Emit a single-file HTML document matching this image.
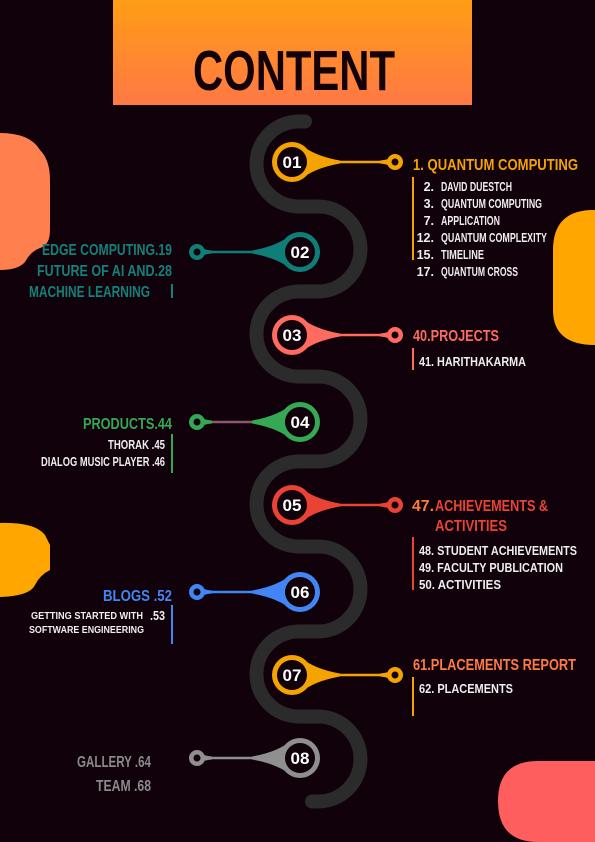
<!DOCTYPE html>
<html><head><meta charset="utf-8"><style>
html,body{margin:0;padding:0;background:#10010a;}
svg{display:block}
text{font-family:"Liberation Sans Narrow","Liberation Sans",sans-serif;font-weight:bold;}
</style></head><body>
<svg width="595" height="842" viewBox="0 0 595 842">
<defs>
<linearGradient id="tg" x1="0" y1="0" x2="0" y2="1"><stop offset="0" stop-color="#ff9d14"/><stop offset="1" stop-color="#ff7845"/></linearGradient>
<g id="tear">
<circle r="20"/>
<path d="M8,-18 Q22,-6 48,-1.5 L48,1.5 Q22,6 8,18 Z"/>
<path d="M103,-6 Q96,-2 88,-1.5 L88,1.5 Q96,2 103,6 Z"/>
<circle cx="103" r="8"/>
</g>
</defs>
<rect width="595" height="842" fill="#10010a"/>
<rect x="113" y="0" width="359" height="105" fill="url(#tg)"/>
<text x="193" y="90" font-size="57" fill="#12010a" textLength="202" lengthAdjust="spacingAndGlyphs">CONTENT</text>

<path d="M0,133 Q30,133 40,150 Q50,160 50,180 L50,230 Q50,245 40,248 Q30,252 25,262 Q18,270 0,270 Z" fill="#ff7f4f"/>
<path d="M595,210 L590,210 Q553,212 553,250 L553,310 Q553,345 595,345 Z" fill="#ffa600"/>
<path d="M0,523 Q35,522 45,535 L50,545 L50,570 Q40,575 35,585 Q30,596 0,597 Z" fill="#ffa600"/>
<path d="M538,761 L595,761 L595,842 L538,842 Q498,842 498,801 Q498,761 538,761 Z" fill="#ff5e5e"/>

<path fill="none" stroke="#2b2b2b" stroke-width="14" stroke-linecap="round"
d="M305,121.5 L299,121.5 A42.5,42.5 0 0 0 299,206.5 L318,206.5 A42.5,42.5 0 0 1 318,291.5 L299,291.5 A42.5,42.5 0 0 0 299,376.5 L318,376.5 A42.5,42.5 0 0 1 318,461.5 L299,461.5 A42.5,42.5 0 0 0 299,546.5 L318,546.5 A42.5,42.5 0 0 1 318,631.5 L299,631.5 A42.5,42.5 0 0 0 299,716.5 L318,716.5 A42.5,42.5 0 0 1 318,801.5 L312,801.5"/>

<g stroke-width="2.5">
<line x1="340" y1="162" x2="390" y2="162" stroke="#f5a300"/>
<line x1="252" y1="252" x2="200" y2="252" stroke="#0e7f78"/>
<line x1="340" y1="335" x2="390" y2="335" stroke="#ff6b61"/>
<line x1="252" y1="422" x2="200" y2="422" stroke="#8a5a6a"/>
<line x1="340" y1="505" x2="390" y2="505" stroke="#ea4335"/>
<line x1="252" y1="592" x2="200" y2="592" stroke="#4285f4"/>
<line x1="340" y1="675" x2="390" y2="675" stroke="#f5a300"/>
<line x1="252" y1="758" x2="200" y2="758" stroke="#8f8f8f"/>
</g>

<g><use href="#tear" transform="translate(292,162)" fill="#f5a300"/><circle cx="292" cy="162" r="15" fill="#10010a"/><circle cx="395" cy="162" r="3.5" fill="#10010a"/><text x="292" y="168" font-size="17" fill="#fff" text-anchor="middle">01</text></g>
<g><use href="#tear" transform="translate(300,252) scale(-1,1)" fill="#0e7f78"/><circle cx="300" cy="252" r="15" fill="#10010a"/><circle cx="197" cy="252" r="3.5" fill="#10010a"/><text x="300" y="258" font-size="17" fill="#fff" text-anchor="middle">02</text></g>
<g><use href="#tear" transform="translate(292,335)" fill="#ff6b61"/><circle cx="292" cy="335" r="15" fill="#10010a"/><circle cx="395" cy="335" r="3.5" fill="#10010a"/><text x="292" y="341" font-size="17" fill="#fff" text-anchor="middle">03</text></g>
<g><use href="#tear" transform="translate(300,422) scale(-1,1)" fill="#34a853"/><circle cx="300" cy="422" r="15" fill="#10010a"/><circle cx="197" cy="422" r="3.5" fill="#10010a"/><text x="300" y="428" font-size="17" fill="#fff" text-anchor="middle">04</text></g>
<g><use href="#tear" transform="translate(292,505)" fill="#ea4335"/><circle cx="292" cy="505" r="15" fill="#10010a"/><circle cx="395" cy="505" r="3.5" fill="#10010a"/><text x="292" y="511" font-size="17" fill="#fff" text-anchor="middle">05</text></g>
<g><use href="#tear" transform="translate(300,592) scale(-1,1)" fill="#4285f4"/><circle cx="300" cy="592" r="15" fill="#10010a"/><circle cx="197" cy="592" r="3.5" fill="#10010a"/><text x="300" y="598" font-size="17" fill="#fff" text-anchor="middle">06</text></g>
<g><use href="#tear" transform="translate(292,675)" fill="#f5a300"/><circle cx="292" cy="675" r="15" fill="#10010a"/><circle cx="395" cy="675" r="3.5" fill="#10010a"/><text x="292" y="681" font-size="17" fill="#fff" text-anchor="middle">07</text></g>
<g><use href="#tear" transform="translate(300,758) scale(-1,1)" fill="#8f8f8f"/><circle cx="300" cy="758" r="15" fill="#10010a"/><circle cx="197" cy="758" r="3.5" fill="#10010a"/><text x="300" y="764" font-size="17" fill="#fff" text-anchor="middle">08</text></g>

<g>
<text x="413" y="170" font-size="16" fill="#f5a300" textLength="165" lengthAdjust="spacingAndGlyphs">1.  QUANTUM COMPUTING</text>
<rect x="412" y="177" width="2" height="83" fill="#f5a300"/>
<g font-size="12.5" fill="#eee">
<text x="434" y="191" text-anchor="end">2.</text><text x="441" y="191" textLength="71" lengthAdjust="spacingAndGlyphs">DAVID DUESTCH</text>
<text x="434" y="208" text-anchor="end">3.</text><text x="441" y="208" textLength="101" lengthAdjust="spacingAndGlyphs">QUANTUM COMPUTING</text>
<text x="434" y="225" text-anchor="end">7.</text><text x="441" y="225" textLength="59" lengthAdjust="spacingAndGlyphs">APPLICATION</text>
<text x="434" y="242" text-anchor="end">12.</text><text x="441" y="242" textLength="106" lengthAdjust="spacingAndGlyphs">QUANTUM COMPLEXITY</text>
<text x="434" y="259" text-anchor="end">15.</text><text x="441" y="259" textLength="43" lengthAdjust="spacingAndGlyphs">TIMELINE</text>
<text x="434" y="276" text-anchor="end">17.</text><text x="441" y="276" textLength="77" lengthAdjust="spacingAndGlyphs">QUANTUM CROSS</text>
</g></g>

<g>
<text x="413" y="341" font-size="16" fill="#ff6b61" textLength="86" lengthAdjust="spacingAndGlyphs">40.PROJECTS</text>
<rect x="412" y="348" width="2" height="22" fill="#ff6b61"/>
<text x="419" y="366" font-size="12.5" fill="#eee" textLength="107" lengthAdjust="spacingAndGlyphs">41.  HARITHAKARMA</text>
</g>

<g>
<text x="412" y="511" font-size="16" fill="#ff7a40" textLength="22" lengthAdjust="spacingAndGlyphs">47.</text>
<text x="435" y="511" font-size="16" fill="#ea4335" textLength="113" lengthAdjust="spacingAndGlyphs">ACHIEVEMENTS &amp;</text>
<text x="435" y="531" font-size="16" fill="#ea4335" textLength="72" lengthAdjust="spacingAndGlyphs">ACTIVITIES</text>
<rect x="412" y="537" width="2" height="53" fill="#ea4335"/>
<g font-size="12.5" fill="#eee">
<text x="419" y="555" textLength="158" lengthAdjust="spacingAndGlyphs">48.  STUDENT ACHIEVEMENTS</text>
<text x="419" y="572" textLength="144" lengthAdjust="spacingAndGlyphs">49.  FACULTY PUBLICATION</text>
<text x="419" y="589" textLength="82" lengthAdjust="spacingAndGlyphs">50.  ACTIVITIES</text>
</g></g>

<g>
<text x="413" y="670" font-size="16" fill="#ff7a45" textLength="163" lengthAdjust="spacingAndGlyphs">61.PLACEMENTS REPORT</text>
<rect x="412" y="677" width="2" height="39" fill="#f5a300"/>
<text x="419" y="693" font-size="12.5" fill="#eee" textLength="94" lengthAdjust="spacingAndGlyphs">62.  PLACEMENTS</text>
</g>

<g font-size="16" fill="#14807a">
<text x="42" y="255" textLength="130" lengthAdjust="spacingAndGlyphs">EDGE COMPUTING.19</text>
<text x="37" y="276" textLength="135" lengthAdjust="spacingAndGlyphs">FUTURE OF AI AND.28</text>
<text x="29" y="297" textLength="121" lengthAdjust="spacingAndGlyphs">MACHINE LEARNING</text>
<rect x="171" y="284" width="2" height="14"/>
</g>

<g>
<text x="83" y="429" font-size="16" fill="#34a853" textLength="89" lengthAdjust="spacingAndGlyphs">PRODUCTS.44</text>
<rect x="171" y="434" width="2" height="39" fill="#34a853"/>
<text x="108" y="449" font-size="12.5" fill="#eee" textLength="57" lengthAdjust="spacingAndGlyphs">THORAK  .45</text>
<text x="41" y="466" font-size="12.5" fill="#eee" textLength="124" lengthAdjust="spacingAndGlyphs">DIALOG MUSIC PLAYER  .46</text>
</g>

<g>
<text x="103" y="601" font-size="16" fill="#4285f4" textLength="69" lengthAdjust="spacingAndGlyphs">BLOGS .52</text>
<rect x="171" y="605" width="2" height="39" fill="#4285f4"/>
<text x="31" y="619" font-size="10.5" fill="#eee" textLength="112" lengthAdjust="spacingAndGlyphs">GETTING STARTED WITH</text>
<text x="29" y="633" font-size="10.5" fill="#eee" textLength="115" lengthAdjust="spacingAndGlyphs">SOFTWARE ENGINEERING</text>
<text x="150" y="620" font-size="12.5" fill="#eee" textLength="15" lengthAdjust="spacingAndGlyphs">.53</text>
</g>

<g font-size="16" fill="#8a8a8a">
<text x="77" y="767" textLength="74" lengthAdjust="spacingAndGlyphs">GALLERY .64</text>
<text x="96" y="791" textLength="55" lengthAdjust="spacingAndGlyphs">TEAM .68</text>
</g>
</svg>
</body></html>
